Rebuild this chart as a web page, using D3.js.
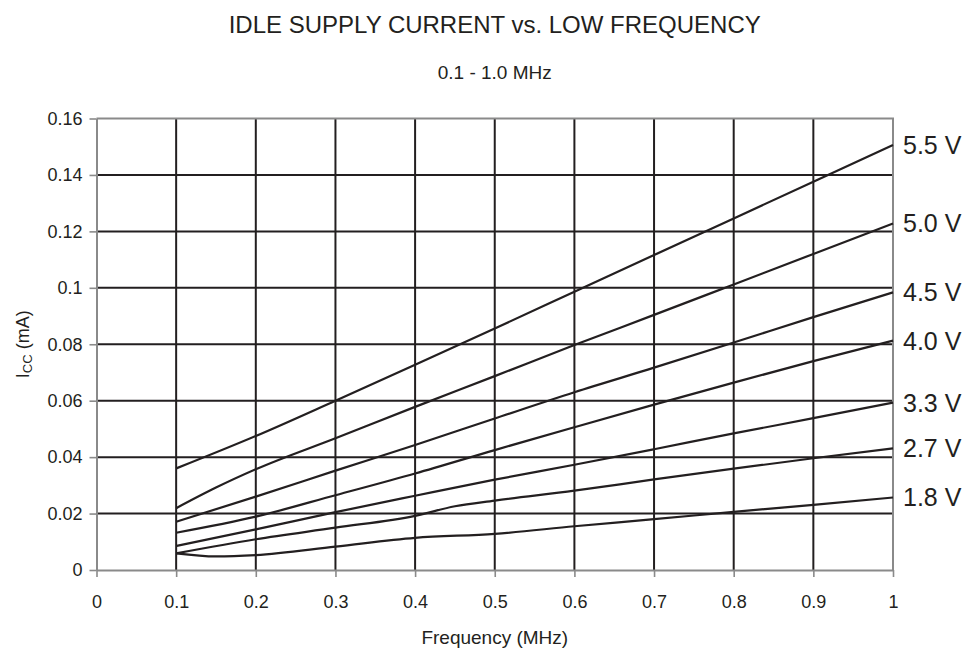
<!DOCTYPE html>
<html>
<head>
<meta charset="utf-8">
<script src="https://cdn.jsdelivr.net/npm/d3@7/dist/d3.min.js"></script>
<style>
  html, body { margin: 0; padding: 0; background: #fff; }
  svg { display: block; font-family: "Liberation Sans", Arial, Helvetica, sans-serif; }
</style>
</head>
<body>
<svg id="chart" width="969" height="649"></svg>
<script>
// ---- data ----
const title = "IDLE SUPPLY CURRENT vs. LOW FREQUENCY";
const subtitle = "0.1 - 1.0 MHz";
const xAxisTitle = "Frequency (MHz)";
const xTicks = [0, 0.1, 0.2, 0.3, 0.4, 0.5, 0.6, 0.7, 0.8, 0.9, 1];
const xTickLabels = ["0", "0.1", "0.2", "0.3", "0.4", "0.5", "0.6", "0.7", "0.8", "0.9", "1"];
const yTicks = [0, 0.02, 0.04, 0.06, 0.08, 0.1, 0.12, 0.14, 0.16];
const yTickLabels = ["0", "0.02", "0.04", "0.06", "0.08", "0.1", "0.12", "0.14", "0.16"];
const seriesNames = ["5.5 V", "5.0 V", "4.5 V", "4.0 V", "3.3 V", "2.7 V", "1.8 V"];

const freq55 = [0.1, 0.2, 0.3, 0.4, 0.5, 0.6, 0.7, 0.8, 0.9, 1.0];
const icc55  = [0.0360, 0.0475, 0.0600, 0.0727, 0.0856, 0.0986, 0.1116, 0.1246, 0.1376, 0.1506];
const freq50 = [0.1, 0.15, 0.2, 0.3, 0.4, 0.5, 0.6, 0.7, 0.8, 0.9, 1.0];
const icc50  = [0.0219, 0.0292, 0.0357, 0.0467, 0.0578, 0.0687, 0.0797, 0.0904, 0.1012, 0.1120, 0.1228];
const freq45 = [0.1, 0.2, 0.3, 0.4, 0.5, 0.6, 0.7, 0.8, 0.9, 1.0];
const icc45  = [0.0171, 0.0260, 0.0352, 0.0443, 0.0537, 0.0630, 0.0717, 0.0806, 0.0896, 0.0984];
const freq40 = [0.1, 0.2, 0.3, 0.4, 0.5, 0.6, 0.7, 0.8, 0.9, 1.0];
const icc40  = [0.0132, 0.0189, 0.0265, 0.0342, 0.0425, 0.0506, 0.0586, 0.0664, 0.0740, 0.0813];
const freq33 = [0.1, 0.2, 0.3, 0.4, 0.5, 0.6, 0.7, 0.8, 0.9, 1.0];
const icc33  = [0.0085, 0.0144, 0.0205, 0.0263, 0.0320, 0.0373, 0.0428, 0.0484, 0.0538, 0.0593];
const freq27 = [0.1, 0.2, 0.3, 0.4, 0.45, 0.5, 0.6, 0.7, 0.8, 0.9, 1.0];
const icc27  = [0.0059, 0.0109, 0.0150, 0.0192, 0.0226, 0.0246, 0.0281, 0.0321, 0.0359, 0.0396, 0.0431];
const freq18 = [0.1, 0.15, 0.2, 0.3, 0.4, 0.5, 0.6, 0.7, 0.8, 0.9, 1.0];
const icc18  = [0.0059, 0.0048, 0.0053, 0.0083, 0.0114, 0.0128, 0.0155, 0.0180, 0.0206, 0.0231, 0.0257];

const seriesFreq = [freq55, freq50, freq45, freq40, freq33, freq27, freq18];
const seriesIcc  = [icc55, icc50, icc45, icc40, icc33, icc27, icc18];

// ---- layout ----
const svg = d3.select("#chart");
const mLeft = 96.5, mRight = 893, mTop = 118.5, mBottom = 570;
const x = d3.scaleLinear().domain([0, 1]).range([mLeft, mRight]);
const y = d3.scaleLinear().domain([0, 0.16]).range([mBottom, mTop]);

const gridColor = "#231f20";
const axisColor = "#8a8a8a";

// gridlines
svg.append("g").selectAll("line")
  .data(yTicks.filter(v => v > 0 && v < 0.16))
  .join("line")
  .attr("x1", x(0)).attr("x2", x(1))
  .attr("y1", d => y(d)).attr("y2", d => y(d))
  .attr("stroke", gridColor).attr("stroke-width", 2);
svg.append("g").selectAll("line")
  .data(xTicks.filter(v => v > 0 && v < 1))
  .join("line")
  .attr("x1", d => x(d)).attr("x2", d => x(d))
  .attr("y1", y(0)).attr("y2", y(0.16))
  .attr("stroke", gridColor).attr("stroke-width", 2);

// frame (top/right) in grey
svg.append("path")
  .attr("d", `M${x(0)},${y(0.16)}H${x(1)}V${y(0)}`)
  .attr("fill", "none").attr("stroke", axisColor).attr("stroke-width", 2);

// axes
const yAxis = d3.axisLeft(y).tickValues(yTicks)
  .tickFormat((d, i) => yTickLabels[i]).tickSizeInner(7).tickSizeOuter(0).tickPadding(7);
const xAxis = d3.axisBottom(x).tickValues(xTicks)
  .tickFormat((d, i) => xTickLabels[i]).tickSizeInner(7).tickSizeOuter(0).tickPadding(18);

const gy = svg.append("g").attr("transform", `translate(${mLeft},0)`).call(yAxis);
const gx = svg.append("g").attr("transform", `translate(0,${mBottom})`).call(xAxis);
[gx, gy].forEach(g => {
  g.select(".domain").attr("stroke", axisColor).attr("stroke-width", 2);
  g.selectAll(".tick line").attr("stroke", axisColor).attr("stroke-width", 1.6);
  g.selectAll(".tick text").attr("fill", "#231f20")
    .style("font-size", "18px").style("font-family", "'Liberation Sans', Arial, sans-serif");
});

// curves
const line = d3.line().x(d => x(d[0])).y(d => y(d[1])).curve(d3.curveMonotoneX);
seriesNames.forEach((name, i) => {
  const pts = seriesFreq[i].map((f, j) => [f, seriesIcc[i][j]]);
  svg.append("path").datum(pts)
    .attr("d", line)
    .attr("fill", "none").attr("stroke", gridColor).attr("stroke-width", 2.2)
    .attr("stroke-linejoin", "round");
  const last = pts[pts.length - 1];
  svg.append("text")
    .attr("x", x(1) + 10).attr("y", y(last[1]))
    .attr("dy", "0.36em")
    .attr("fill", "#231f20")
    .style("font-size", "25px")
    .text(name);
});

// titles
svg.append("text").attr("x", (mLeft + mRight) / 2).attr("y", 33)
  .attr("text-anchor", "middle").attr("fill", "#231f20")
  .style("font-size", "24px").text(title);
svg.append("text").attr("x", (mLeft + mRight) / 2).attr("y", 79)
  .attr("text-anchor", "middle").attr("fill", "#231f20")
  .style("font-size", "19px").text(subtitle);
svg.append("text").attr("x", (mLeft + mRight) / 2).attr("y", 644)
  .attr("text-anchor", "middle").attr("fill", "#231f20")
  .style("font-size", "19px").text(xAxisTitle);

const yt = svg.append("text")
  .attr("transform", `translate(29,${(mTop + mBottom) / 2}) rotate(-90)`)
  .attr("text-anchor", "middle").attr("fill", "#231f20")
  .style("font-size", "18px");
yt.append("tspan").text("I");
yt.append("tspan").attr("baseline-shift", "-25%").style("font-size", "13px").text("CC");
yt.append("tspan").text(" (mA)");
</script>
</body>
</html>
